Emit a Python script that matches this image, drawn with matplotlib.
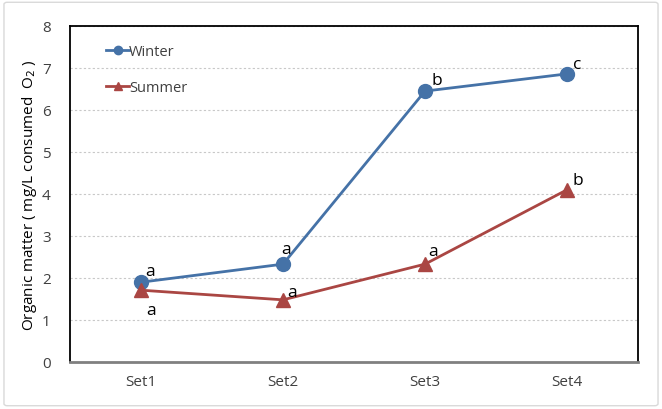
import matplotlib.pyplot as plt
from matplotlib.patches import FancyBboxPatch

sets = ["Set1", "Set2", "Set3", "Set4"]
winter = [1.9, 2.33, 6.45, 6.86]
summer = [1.71, 1.48, 2.33, 4.1]
winter_letters = ["a", "a", "b", "c"]
summer_letters = ["a", "a", "a", "b"]

plt.rcParams['font.family'] = ['Open Sans', 'DejaVu Sans']

fig = plt.figure(figsize=(6.62, 4.10), dpi=100)
ax = fig.add_axes([70 / 662, 1 - 363 / 410, 568 / 662, 336 / 410])

# light outer frame
fig.patches.append(FancyBboxPatch((0.006, 0.008), 0.988, 0.984,
                                  boxstyle="round,pad=0,rounding_size=0.005",
                                  transform=fig.transFigure, fill=False,
                                  ec="#d9d9d9", lw=1))

x = range(len(sets))
ax.plot(x, winter, color="#4572A7", lw=2, marker="o", ms=10, label="Winter")
ax.plot(x, summer, color="#AA4643", lw=2, marker="^", ms=10, label="Summer")

# significance letters
w_off = [(3, 2), (-1, 5), (5, 2), (4, 1)]
s_off = [(4, -20), (3, 0), (2, 4), (4, 1)]
for i, (lab, off) in enumerate(zip(winter_letters, w_off)):
    ax.annotate(lab, (i, winter[i]), xytext=off, textcoords="offset points",
                fontsize=12.5, va="bottom", ha="left")
for i, (lab, off) in enumerate(zip(summer_letters, s_off)):
    ax.annotate(lab, (i, summer[i]), xytext=off, textcoords="offset points",
                fontsize=12.5, va="bottom", ha="left")

ax.set_xlim(-0.5, 3.5)
ax.set_ylim(0, 8)
ax.set_yticks(range(0, 9))
ax.set_xticks(list(x))
ax.set_xticklabels(sets)
ax.tick_params(length=0, labelsize=11, colors="#404040", pad=9)
ax.tick_params(axis="y", pad=14)
ax.yaxis.grid(True, ls=(0, (2, 2)), color="#c8c8c8", lw=0.8)
ax.set_axisbelow(True)
for sp in ax.spines.values():
    sp.set_linewidth(1.3)
    sp.set_color("black")
ax.spines["bottom"].set_color("#808080")
ax.spines["bottom"].set_linewidth(2)

ax.set_ylabel("Organic matter ( mg/L consumed  O$_2$ )", fontsize=11, labelpad=2)

leg = ax.legend(loc="upper left", frameon=False, handlelength=1.6,
                handletextpad=0.0, labelspacing=1.45, fontsize=10.5,
                markerscale=0.6, bbox_to_anchor=(0.04, 0.985))
for t in leg.get_texts():
    t.set_color("#404040")

fig.savefig("out.png", dpi=100)
